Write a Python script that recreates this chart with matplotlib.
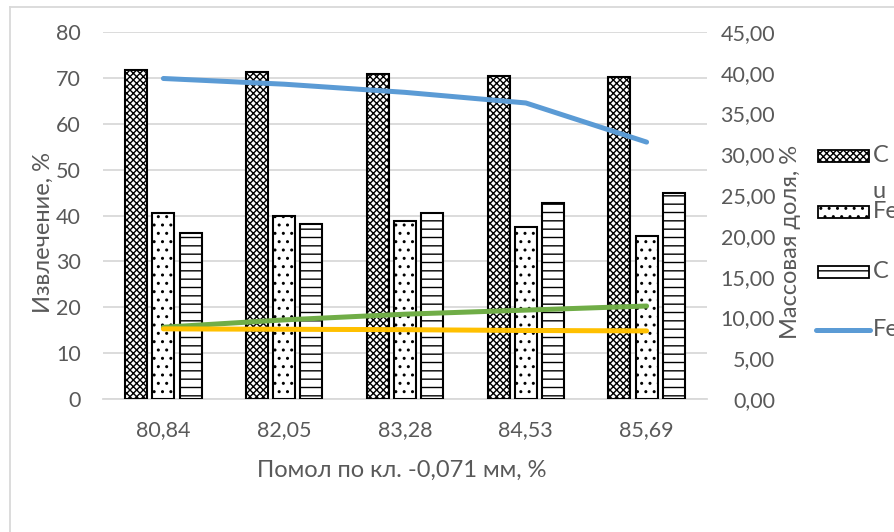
import matplotlib
matplotlib.use("Agg")
import matplotlib.pyplot as plt
import numpy as np
from matplotlib.patches import Rectangle
from matplotlib.lines import Line2D

plt.rcParams['font.family'] = ['Lato', 'DejaVu Sans']
plt.rcParams['hatch.linewidth'] = 1.0

# Grinding fineness, % of -0.071 mm class
categories = ["80,84", "82,05", "83,28", "84,53", "85,69"]

# Recovery, % (left axis)
rec_cu = [71.8, 71.3, 70.8, 70.3, 70.2]
rec_fe = [40.5, 39.9, 38.8, 37.5, 35.6]
rec_c = [36.2, 38.1, 40.5, 42.7, 44.9]

# Mass fraction, % (right axis)
frac_fe = [39.3, 38.6, 37.6, 36.3, 31.5]
frac_green = [8.8, 9.7, 10.4, 10.9, 11.4]
frac_yellow = [8.6, 8.55, 8.5, 8.4, 8.35]

TXT = '#595959'
GRID = '#d9d9d9'
TICK_FS = 15.5
LABEL_FS = 17

W, H = 894, 532
fig = plt.figure(figsize=(W / 100, H / 100), dpi=100)

def fx(px):
    return px / W

def fy(py):
    return 1 - py / H

ax = fig.add_axes([fx(103), fy(399), fx(707) - fx(103), fy(32) - fy(399)])
x = np.arange(len(categories))
bw = 0.183
step = 0.225

ax.bar(x - step, rec_cu, bw, color='white', edgecolor='black', linewidth=1.5,
       hatch='xxxxx', zorder=3)
ax.bar(x, rec_fe, bw, color='white', edgecolor='black', linewidth=1.5,
       hatch='..', zorder=3)
ax.bar(x + step, rec_c, bw, color='white', edgecolor='black', linewidth=1.5,
       hatch='--', zorder=3)

ax.set_xlim(-0.5, len(categories) - 0.5)
ax.set_ylim(0, 80)
ax.set_yticks(np.arange(0, 81, 10))
ax.set_xticks(x)
ax.set_xticklabels(categories)
ax.yaxis.grid(True, color=GRID, linewidth=1.3, zorder=0)
ax.set_axisbelow(True)
for s in ['top', 'right', 'left']:
    ax.spines[s].set_visible(False)
ax.spines['bottom'].set_color(GRID)
ax.spines['bottom'].set_linewidth(1.3)
ax.tick_params(axis='both', length=0, labelsize=TICK_FS, colors=TXT)
ax.tick_params(axis='y', pad=16)
ax.tick_params(axis='x', pad=15)
ax.set_xlabel("Помол по кл. -0,071 мм, %", fontsize=LABEL_FS, color=TXT)
ax.xaxis.set_label_coords(0.495, -0.166)
ax.set_ylabel("Извлечение, %", fontsize=LABEL_FS, color=TXT)
ax.yaxis.set_label_coords(-0.081, 0.455)

ax2 = ax.twinx()
ax2.plot(x, frac_fe, color='#5B9BD5', linewidth=3.6, solid_capstyle='round', zorder=4)
ax2.plot(x, frac_green, color='#70AD47', linewidth=3.6, solid_capstyle='round', zorder=4)
ax2.plot(x, frac_yellow, color='#FFC000', linewidth=3.6, solid_capstyle='round', zorder=5)
ax2.set_ylim(0, 45)
ax2.set_yticks(np.arange(0, 46, 5))
ax2.set_yticklabels([f"{v:.2f}".replace('.', ',') for v in np.arange(0, 46, 5)])
for s in ax2.spines.values():
    s.set_visible(False)
ax2.tick_params(axis='y', length=0, labelsize=TICK_FS, colors=TXT, pad=49)
for lbl in ax2.get_yticklabels():
    lbl.set_horizontalalignment('right')
ax2.set_ylabel("Массовая доля, %", fontsize=LABEL_FS, color=TXT)
ax2.yaxis.set_label_coords(1.121, 0.428)

# Legend drawn along the right edge
hl, hr = 818, 869
fig.add_artist(Rectangle((fx(hl), fy(162)), fx(hr) - fx(hl), fy(150) - fy(162),
                         transform=fig.transFigure, facecolor='white',
                         edgecolor='black', linewidth=1.3, hatch='xxxxx'))
fig.add_artist(Rectangle((fx(hl), fy(218)), fx(hr) - fx(hl), fy(206) - fy(218),
                         transform=fig.transFigure, facecolor='white',
                         edgecolor='black', linewidth=1.3, hatch='..'))
fig.add_artist(Rectangle((fx(hl), fy(278)), fx(hr) - fx(hl), fy(266) - fy(278),
                         transform=fig.transFigure, facecolor='white',
                         edgecolor='black', linewidth=1.3, hatch='--'))
fig.add_artist(Line2D([fx(hl - 2), fx(hr + 1)], [fy(330), fy(330)],
                      transform=fig.transFigure, color='#5B9BD5', linewidth=3.6,
                      solid_capstyle='round'))
for txt, py in [("C", 156), ("u", 191), ("Fe", 212), ("C", 272), ("Fe", 330)]:
    fig.text(fx(873), fy(py), txt, fontsize=LABEL_FS, color=TXT, ha='left', va='center')

# Chart area frame
fig.add_artist(Line2D([fx(10), fx(10)], [fy(7), 0], transform=fig.transFigure,
                      color=GRID, linewidth=1.3))
fig.add_artist(Line2D([fx(10), 1], [fy(7), fy(7)], transform=fig.transFigure,
                      color=GRID, linewidth=1.3))

fig.savefig("out.png", dpi=100)
